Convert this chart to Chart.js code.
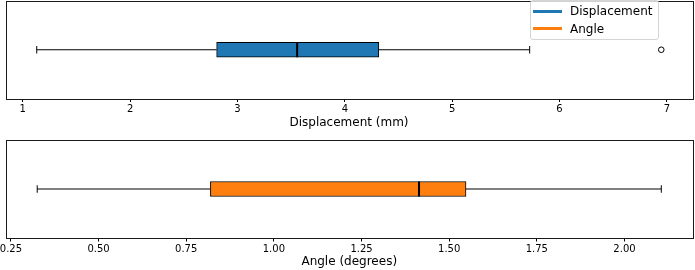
<!DOCTYPE html>
<html lang="en">
<head>
  <meta charset="UTF-8">
  <title>Displacement and Angle box plots</title>
  <script src="https://cdn.jsdelivr.net/npm/chart.js"></script>
  <style>
    body { margin: 0; background: #fff; }
    .wrap { position: relative; width: 695px; height: 270px; }
    .panel { position: absolute; left: 0; width: 695px; height: 135px; }
    .legend {
      position: absolute; left: 530px; top: 0; width: 129px; height: 40px;
      box-sizing: border-box; border: 1px solid #d4d4d4; border-radius: 3px;
      background: rgba(255,255,255,0.8); font: 12px 'DejaVu Sans'; color: #000; z-index: 2;
    }
    .legend .sw { position: absolute; left: 2px; width: 29px; height: 3px; }
    .legend .lb { position: absolute; left: 39px; line-height: 14px; }
  </style>
</head>
<body>
<div class="wrap">
  <div class="panel" style="top:0"><canvas id="dispChart" width="695" height="135"></canvas></div>
  <div class="panel" style="top:135px"><canvas id="angleChart" width="695" height="135"></canvas></div>
  <!-- legend sits over the top plot, like matplotlib's 'upper right' -->
  <div class="legend">
    <div class="sw" style="top:8.5px;background:#1f77b4"></div><div class="lb" style="top:3px">Displacement</div>
    <div class="sw" style="top:26px;background:#ff7f0e"></div><div class="lb" style="top:20.5px">Angle</div>
  </div>
</div>

<script>
  // box plot stats: [low whisker, q1, median, q3, high whisker]
  const dispStats = [1.13, 2.806, 3.556, 4.317, 5.722];
  const dispOutliers = [6.948];
  const dispTicks = [1, 2, 3, 4, 5, 6, 7];

  const angleStats = [0.325, 0.819, 1.414, 1.548, 2.105];
  const angleOutliers = [];
  const angleTicks = [0.25, 0.5, 0.75, 1.0, 1.25, 1.5, 1.75, 2.0];

  // draws the full frame round the plot area
  const frame = {
    id: 'frame',
    afterDatasetsDraw(chart) {
      const { ctx, chartArea: a } = chart;
      ctx.save();
      ctx.strokeStyle = '#1a1a1a';
      ctx.lineWidth = 1;
      ctx.strokeRect(Math.round(a.left) + 0.5, Math.round(a.top) + 0.5,
        Math.round(a.right - a.left), Math.round(a.bottom - a.top));
      ctx.restore();
    }
  };

  function boxChart(id, name, stats, outliers, ticks, fmt, title, color, pad, axisHeight, titlePad) {
    const [lo, q1, med, q3, hi] = stats;
    const allVals = [lo, hi].concat(outliers);
    const dmin = Math.min(...allVals), dmax = Math.max(...allVals);
    const margin = (dmax - dmin) * 0.05;  // matplotlib default margins

    return new Chart(document.getElementById(id), {
      type: 'bar',
      data: {
        labels: [name],
        datasets: [
          {
            type: 'scatter', order: 0,
            data: [{ x: med, y: name }],
            pointStyle: 'line', rotation: 90, radius: 7.5, borderWidth: 2, borderColor: '#000'
          },
          {
            type: 'scatter', order: 1,
            data: [{ x: lo, y: name }, { x: hi, y: name }],
            pointStyle: 'line', rotation: 90, radius: 3.75, borderWidth: 1, borderColor: '#000'
          },
          {
            type: 'scatter', order: 1,
            data: outliers.map(v => ({ x: v, y: name })),
            pointStyle: 'circle', radius: 2.8, borderWidth: 1,
            borderColor: '#000', backgroundColor: 'rgba(0,0,0,0)'
          },
          {
            type: 'line', order: 1,
            data: [{ x: lo, y: name }, { x: q1, y: name }],
            borderColor: '#000', borderWidth: 1, pointRadius: 0
          },
          {
            type: 'line', order: 1,
            data: [{ x: q3, y: name }, { x: hi, y: name }],
            borderColor: '#000', borderWidth: 1, pointRadius: 0
          },
          {
            type: 'bar', order: 5,
            data: [[q1, q3]],
            backgroundColor: color, borderColor: '#000', borderWidth: 1,
            borderSkipped: false, barThickness: 15
          }
        ]
      },
      options: {
        indexAxis: 'y',
        responsive: false,
        animation: false,
        devicePixelRatio: 1,
        layout: { padding: pad, autoPadding: false },
        plugins: { legend: { display: false }, tooltip: { enabled: false } },
        scales: {
          y: { type: 'category', display: false },
          x: {
            type: 'linear',
            min: dmin - margin,
            max: dmax + margin,
            border: { display: false },
            grid: { drawOnChartArea: false, drawTicks: true, tickLength: 3.5, tickColor: '#000', tickWidth: 1 },
            ticks: {
              color: '#000', padding: 1.5, autoSkip: false, maxRotation: 0,
              font: { family: 'DejaVu Sans', size: 10 },
              callback: v => fmt(v)
            },
            afterBuildTicks: s => { s.ticks = ticks.map(v => ({ value: v })); },
            afterFit: s => { s.height = axisHeight; s.paddingLeft = 0; s.paddingRight = 0; },
            title: {
              display: true, text: title, color: '#000',
              font: { family: 'DejaVu Sans', size: 12 },
              padding: { top: 0, bottom: titlePad }
            }
          }
        }
      },
      plugins: [frame]
    });
  }

  boxChart('dispChart', 'Displacement', dispStats, dispOutliers, dispTicks,
    v => String(v), 'Displacement (mm)', '#1f77b4',
    { top: 1, left: 5.5, right: 2.5, bottom: 0 }, 36.5, 4.5);

  boxChart('angleChart', 'Angle', angleStats, angleOutliers, angleTicks,
    v => v.toFixed(2), 'Angle (degrees)', '#ff7f0e',
    { top: 5, left: 6, right: 2.5, bottom: 0 }, 32, 0.6);
</script>
</body>
</html>
